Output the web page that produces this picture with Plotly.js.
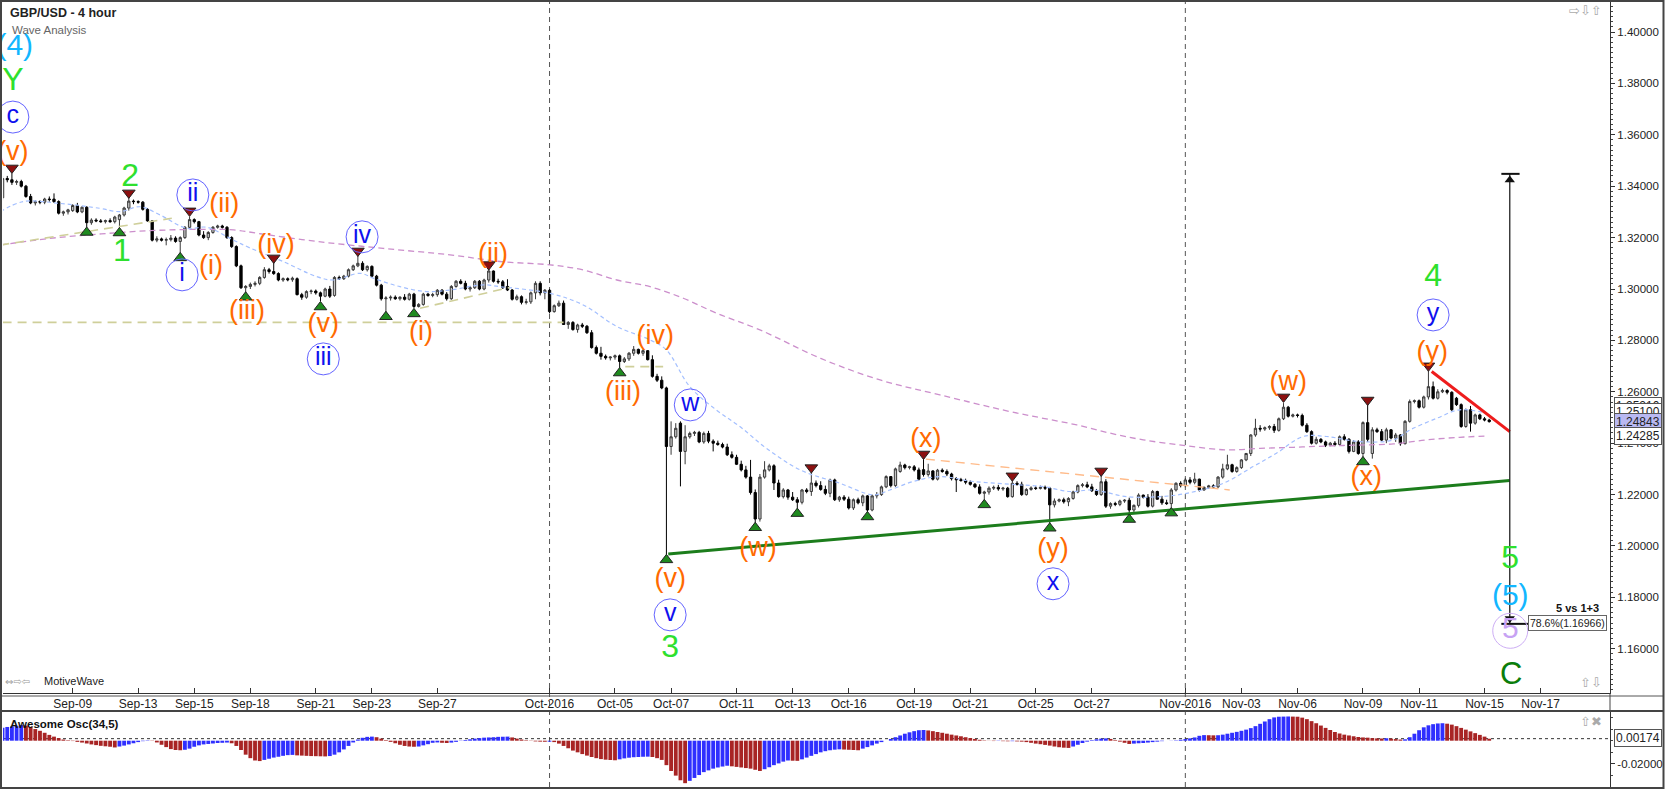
<!DOCTYPE html>
<html><head><meta charset="utf-8">
<script src="https://cdn.plot.ly/plotly-3.0.1.min.js"></script>
<style>html,body{margin:0;padding:0;background:#fff;}#chart{width:1668px;height:789px;}</style>
</head><body><div id="chart"></div>
<script>
// ---------------- DATA ----------------
const START = -15; // bar index of first candle (index 0 = Sep-09 00:00, 4h bars)
const open = [
1.3355,1.3430,1.3425,1.3415,1.3418,1.3400,1.3360,1.3335,1.3340,1.3338,
1.3350,1.3350,1.3340,1.3295,1.3300,1.3305,1.3325,1.3300,1.3318,1.3258,
1.3268,1.3265,1.3262,1.3266,1.3262,1.3270,1.3288,1.3315,1.3342,1.3340,
1.3338,1.3310,1.3265,1.3190,1.3195,1.3190,1.3192,1.3198,1.3185,1.3200,
1.3240,1.3270,1.3262,1.3210,1.3200,1.3220,1.3240,1.3245,1.3240,1.3200,
1.3165,1.3090,1.3005,1.3010,1.3018,1.3022,1.3045,1.3075,1.3068,1.3060,
1.3035,1.3040,1.3036,1.3040,1.2978,1.2968,1.2990,1.2992,1.2985,1.2972,
1.3000,1.2975,1.3045,1.3040,1.3050,1.3075,1.3090,1.3100,1.3075,1.3088,
1.3050,1.3015,1.2962,1.2965,1.2968,1.2962,1.2968,1.2960,1.2980,1.2932,
1.2940,1.2980,1.2975,1.2978,1.2995,1.2980,1.2962,1.3010,1.3030,1.3022,
1.3000,1.3005,1.3030,1.3000,1.3035,1.3070,1.3030,1.3028,1.3010,1.2996,
1.2960,1.2970,1.2948,1.2950,1.2985,1.3022,1.2985,1.2995,1.2912,1.2935,
1.2945,1.2862,1.2870,1.2842,1.2860,1.2855,1.2830,1.2772,1.2750,1.2738,
1.2732,1.2735,1.2740,1.2718,1.2728,1.2750,1.2765,1.2750,1.2760,1.2725,
1.2660,1.2645,1.2615,1.2387,1.2425,1.2478,1.2368,1.2425,1.2438,1.2442,
1.2405,1.2438,1.2408,1.2400,1.2395,1.2385,1.2355,1.2345,1.2318,1.2296,
1.2268,1.2208,1.2105,1.2268,1.2296,1.2312,1.2245,1.2192,1.2218,1.2190,
1.2180,1.2170,1.2218,1.2212,1.2245,1.2235,1.2220,1.2205,1.2257,1.2180,
1.2190,1.2182,1.2148,1.2180,1.2168,1.2195,1.2140,1.2195,1.2200,1.2230,
1.2270,1.2235,1.2290,1.2315,1.2305,1.2308,1.2296,1.2297,1.2278,1.2292,
1.2260,1.2295,1.2290,1.2280,1.2262,1.2258,1.2255,1.2248,1.2240,1.2230,
1.2205,1.2210,1.2225,1.2228,1.2222,1.2225,1.2192,1.2244,1.2240,1.2200,
1.2220,1.2226,1.2224,1.2228,1.2225,1.2160,1.2175,1.2180,1.2172,1.2185,
1.2210,1.2235,1.2238,1.2230,1.2215,1.2200,1.2250,1.2155,1.2165,1.2162,
1.2175,1.2178,1.2140,1.2158,1.2198,1.2190,1.2155,1.2212,1.2182,1.2168,
1.2165,1.2218,1.2244,1.2235,1.2257,1.2248,1.2260,1.2218,1.2228,1.2234,
1.2230,1.2268,1.2300,1.2316,1.2290,1.2305,1.2335,1.2360,1.2432,1.2458,
1.2455,1.2460,1.2465,1.2450,1.2495,1.2540,1.2505,1.2510,1.2508,1.2470,
1.2445,1.2400,1.2415,1.2405,1.2392,1.2400,1.2395,1.2425,1.2415,1.2368,
1.2405,1.2360,1.2480,1.2360,1.2452,1.2445,1.2412,1.2452,1.2420,1.2432,
1.2398,1.2485,1.2562,1.2565,1.2540,1.2580,1.2620,1.2575,1.2600,1.2605,
1.2598,1.2575,1.2550,1.2465,1.2530,1.2478,1.2510,1.2495,1.2490];
const high = [
1.3440,1.3440,1.3450,1.3425,1.3425,1.3405,1.3370,1.3345,1.3345,1.3355,
1.3360,1.3372,1.3345,1.3305,1.3312,1.3330,1.3335,1.3322,1.3322,1.3275,
1.3275,1.3272,1.3270,1.3275,1.3285,1.3292,1.3320,1.3360,1.3348,1.3345,
1.3342,1.3315,1.3268,1.3205,1.3200,1.3200,1.3210,1.3205,1.3205,1.3245,
1.3282,1.3275,1.3265,1.3225,1.3225,1.3245,1.3250,1.3250,1.3245,1.3205,
1.3170,1.3095,1.3015,1.3025,1.3030,1.3050,1.3085,1.3082,1.3108,1.3065,
1.3045,1.3045,1.3048,1.3045,1.2985,1.2995,1.2998,1.2998,1.2990,1.3005,
1.3012,1.3050,1.3052,1.3055,1.3080,1.3095,1.3130,1.3108,1.3092,1.3092,
1.3055,1.3020,1.2972,1.2975,1.2975,1.2972,1.2980,1.2985,1.2985,1.2945,
1.2985,1.2985,1.2985,1.3000,1.3000,1.2988,1.3015,1.3035,1.3038,1.3032,
1.3012,1.3035,1.3035,1.3040,1.3082,1.3072,1.3040,1.3035,1.3038,1.3000,
1.2978,1.2975,1.2962,1.2990,1.3030,1.3030,1.3000,1.3000,1.2940,1.2955,
1.2955,1.2875,1.2875,1.2865,1.2868,1.2860,1.2840,1.2780,1.2775,1.2745,
1.2738,1.2745,1.2745,1.2735,1.2755,1.2778,1.2768,1.2765,1.2762,1.2742,
1.2670,1.2660,1.2620,1.2485,1.2478,1.2485,1.2470,1.2445,1.2448,1.2448,
1.2445,1.2448,1.2415,1.2410,1.2402,1.2398,1.2368,1.2355,1.2332,1.2312,
1.2335,1.2220,1.2280,1.2330,1.2320,1.2318,1.2258,1.2225,1.2222,1.2210,
1.2190,1.2222,1.2225,1.2290,1.2255,1.2252,1.2235,1.2262,1.2262,1.2195,
1.2198,1.2192,1.2185,1.2188,1.2200,1.2198,1.2200,1.2210,1.2235,1.2275,
1.2272,1.2305,1.2328,1.2320,1.2312,1.2315,1.2305,1.2342,1.2320,1.2295,
1.2300,1.2302,1.2298,1.2285,1.2268,1.2265,1.2262,1.2255,1.2245,1.2240,
1.2215,1.2232,1.2235,1.2238,1.2230,1.2230,1.2260,1.2252,1.2250,1.2225,
1.2232,1.2232,1.2235,1.2235,1.2230,1.2185,1.2185,1.2188,1.2190,1.2215,
1.2240,1.2245,1.2250,1.2242,1.2222,1.2275,1.2260,1.2170,1.2172,1.2180,
1.2182,1.2188,1.2162,1.2205,1.2200,1.2202,1.2218,1.2215,1.2195,1.2180,
1.2225,1.2248,1.2252,1.2265,1.2268,1.2285,1.2262,1.2232,1.2238,1.2240,
1.2272,1.2320,1.2355,1.2320,1.2310,1.2338,1.2362,1.2435,1.2495,1.2470,
1.2465,1.2470,1.2475,1.2500,1.2556,1.2545,1.2515,1.2515,1.2515,1.2478,
1.2450,1.2425,1.2420,1.2410,1.2405,1.2408,1.2430,1.2435,1.2420,1.2412,
1.2412,1.2485,1.2556,1.2462,1.2460,1.2455,1.2460,1.2455,1.2440,1.2435,
1.2490,1.2570,1.2570,1.2570,1.2585,1.2682,1.2640,1.2610,1.2612,1.2610,
1.2602,1.2580,1.2555,1.2535,1.2545,1.2515,1.2515,1.2502,1.2495];
const low = [
1.3345,1.3415,1.3405,1.3405,1.3395,1.3355,1.3330,1.3325,1.3330,1.3330,
1.3340,1.3335,1.3290,1.3285,1.3290,1.3300,1.3295,1.3295,1.3240,1.3250,
1.3260,1.3258,1.3255,1.3258,1.3255,1.3238,1.3282,1.3305,1.3330,1.3332,
1.3305,1.3262,1.3185,1.3182,1.3185,1.3170,1.3185,1.3180,1.3135,1.3195,
1.3235,1.3255,1.3205,1.3195,1.3190,1.3215,1.3235,1.3235,1.3195,1.3160,
1.3085,1.3000,1.2985,1.3000,1.3010,1.3015,1.3040,1.3060,1.3055,1.3030,
1.3028,1.3030,1.3028,1.2975,1.2958,1.2962,1.2980,1.2978,1.2952,1.2968,
1.2965,1.2970,1.3035,1.3035,1.3045,1.3070,1.3085,1.3070,1.3068,1.3045,
1.3010,1.2955,1.2905,1.2955,1.2958,1.2955,1.2955,1.2955,1.2925,1.2928,
1.2935,1.2970,1.2968,1.2970,1.2975,1.2955,1.2958,1.3005,1.3018,1.2995,
1.2990,1.3000,1.2995,1.2995,1.3025,1.3025,1.3020,1.3000,1.2992,1.2955,
1.2955,1.2940,1.2940,1.2942,1.2960,1.2975,1.2960,1.2905,1.2908,1.2930,
1.2860,1.2845,1.2838,1.2830,1.2848,1.2825,1.2768,1.2745,1.2725,1.2725,
1.2722,1.2725,1.2692,1.2712,1.2720,1.2740,1.2745,1.2740,1.2722,1.2655,
1.2638,1.2610,1.1965,1.2355,1.2418,1.2232,1.2318,1.2418,1.2428,1.2400,
1.2398,1.2400,1.2368,1.2390,1.2380,1.2350,1.2340,1.2315,1.2290,1.2262,
1.2200,1.2085,1.2095,1.2262,1.2290,1.2218,1.2188,1.2185,1.2180,1.2175,
1.2145,1.2162,1.2205,1.2195,1.2228,1.2215,1.2198,1.2190,1.2175,1.2172,
1.2175,1.2142,1.2140,1.2162,1.2155,1.2130,1.2135,1.2185,1.2195,1.2225,
1.2228,1.2230,1.2285,1.2298,1.2298,1.2290,1.2255,1.2270,1.2270,1.2255,
1.2255,1.2285,1.2272,1.2255,1.2210,1.2250,1.2240,1.2235,1.2225,1.2200,
1.2178,1.2200,1.2218,1.2215,1.2215,1.2188,1.2188,1.2235,1.2195,1.2196,
1.2215,1.2218,1.2220,1.2218,1.2088,1.2150,1.2170,1.2165,1.2155,1.2180,
1.2205,1.2228,1.2225,1.2210,1.2195,1.2195,1.2148,1.2145,1.2155,1.2155,
1.2168,1.2122,1.2132,1.2150,1.2185,1.2150,1.2150,1.2180,1.2160,1.2160,
1.2142,1.2212,1.2228,1.2228,1.2240,1.2240,1.2212,1.2215,1.2222,1.2222,
1.2225,1.2262,1.2295,1.2285,1.2285,1.2300,1.2330,1.2350,1.2425,1.2445,
1.2448,1.2452,1.2440,1.2445,1.2490,1.2500,1.2500,1.2500,1.2465,1.2440,
1.2395,1.2395,1.2400,1.2385,1.2388,1.2388,1.2390,1.2410,1.2360,1.2365,
1.2355,1.2345,1.2405,1.2340,1.2440,1.2408,1.2400,1.2415,1.2405,1.2390,
1.2395,1.2480,1.2555,1.2535,1.2535,1.2570,1.2570,1.2570,1.2595,1.2590,
1.2525,1.2545,1.2460,1.2460,1.2445,1.2472,1.2490,1.2485,1.2480];
const close = [
1.3430,1.3425,1.3415,1.3418,1.3400,1.3360,1.3335,1.3340,1.3338,1.3350,
1.3348,1.3340,1.3295,1.3300,1.3308,1.3325,1.3300,1.3318,1.3258,1.3268,
1.3265,1.3262,1.3266,1.3262,1.3280,1.3288,1.3315,1.3342,1.3340,1.3338,
1.3310,1.3265,1.3190,1.3195,1.3190,1.3192,1.3198,1.3185,1.3200,1.3240,
1.3270,1.3262,1.3210,1.3200,1.3220,1.3240,1.3245,1.3240,1.3200,1.3165,
1.3090,1.3005,1.3010,1.3018,1.3022,1.3045,1.3075,1.3068,1.3060,1.3035,
1.3040,1.3036,1.3042,1.2978,1.2968,1.2990,1.2992,1.2985,1.2972,1.3000,
1.2972,1.3045,1.3040,1.3050,1.3075,1.3090,1.3100,1.3075,1.3088,1.3050,
1.3015,1.2962,1.2965,1.2968,1.2962,1.2968,1.2960,1.2980,1.2932,1.2940,
1.2980,1.2975,1.2978,1.2995,1.2980,1.2962,1.3010,1.3030,1.3022,1.3000,
1.3005,1.3030,1.3000,1.3035,1.3070,1.3030,1.3028,1.3005,1.2996,1.2960,
1.2970,1.2948,1.2950,1.2985,1.3022,1.2985,1.2995,1.2912,1.2935,1.2945,
1.2862,1.2870,1.2842,1.2860,1.2855,1.2830,1.2772,1.2750,1.2738,1.2732,
1.2735,1.2740,1.2718,1.2728,1.2750,1.2765,1.2750,1.2760,1.2725,1.2660,
1.2645,1.2615,1.2387,1.2425,1.2458,1.2368,1.2425,1.2438,1.2442,1.2405,
1.2438,1.2408,1.2400,1.2395,1.2385,1.2355,1.2345,1.2318,1.2296,1.2268,
1.2208,1.2105,1.2268,1.2296,1.2312,1.2245,1.2192,1.2218,1.2190,1.2180,
1.2170,1.2218,1.2212,1.2245,1.2235,1.2220,1.2205,1.2257,1.2180,1.2190,
1.2182,1.2148,1.2180,1.2168,1.2195,1.2140,1.2195,1.2200,1.2230,1.2270,
1.2235,1.2300,1.2315,1.2305,1.2308,1.2296,1.2260,1.2278,1.2292,1.2260,
1.2295,1.2290,1.2280,1.2262,1.2258,1.2255,1.2248,1.2240,1.2230,1.2205,
1.2210,1.2225,1.2228,1.2222,1.2225,1.2192,1.2244,1.2240,1.2200,1.2220,
1.2226,1.2224,1.2228,1.2225,1.2160,1.2175,1.2180,1.2172,1.2185,1.2210,
1.2235,1.2238,1.2230,1.2215,1.2200,1.2250,1.2155,1.2165,1.2162,1.2175,
1.2178,1.2140,1.2158,1.2198,1.2190,1.2155,1.2212,1.2182,1.2168,1.2165,
1.2218,1.2244,1.2235,1.2257,1.2248,1.2260,1.2218,1.2228,1.2234,1.2230,
1.2268,1.2300,1.2316,1.2290,1.2305,1.2335,1.2360,1.2432,1.2458,1.2455,
1.2460,1.2465,1.2450,1.2495,1.2540,1.2505,1.2510,1.2508,1.2470,1.2445,
1.2400,1.2415,1.2405,1.2392,1.2400,1.2395,1.2425,1.2415,1.2368,1.2405,
1.2360,1.2480,1.2415,1.2452,1.2445,1.2412,1.2452,1.2420,1.2432,1.2398,
1.2485,1.2562,1.2565,1.2540,1.2580,1.2620,1.2575,1.2600,1.2605,1.2598,
1.2530,1.2550,1.2465,1.2530,1.2478,1.2510,1.2495,1.2490,1.2484];
// Awesome Oscillator (34,5) values per bar
const aoValues = [
0.0112,0.0118,0.0123,0.0128,0.0134,0.0130,0.0118,0.0100,0.0085,0.0068,
0.0050,0.0035,0.0022,0.0010,0.0004,-0.0003,-0.0010,-0.0016,-0.0024,-0.0032,
-0.0038,-0.0044,-0.0048,-0.0052,-0.0058,-0.0050,-0.0042,-0.0032,-0.0022,-0.0012,
-0.0004,0.0003,-0.0002,-0.0015,-0.0035,-0.0055,-0.0072,-0.0080,-0.0082,-0.0078,
-0.0068,-0.0052,-0.0040,-0.0032,-0.0028,-0.0024,-0.0020,-0.0018,-0.0016,-0.0022,
-0.0045,-0.0080,-0.0120,-0.0150,-0.0170,-0.0175,-0.0165,-0.0155,-0.0145,-0.0138,
-0.0130,-0.0124,-0.0122,-0.0126,-0.0128,-0.0130,-0.0132,-0.0133,-0.0134,-0.0135,
-0.0132,-0.0120,-0.0100,-0.0075,-0.0045,-0.0015,0.0010,0.0025,0.0033,0.0035,
0.0030,0.0018,0.0005,-0.0010,-0.0022,-0.0035,-0.0045,-0.0050,-0.0052,-0.0050,
-0.0040,-0.0030,-0.0018,-0.0015,-0.0018,-0.0020,-0.0016,-0.0010,-0.0002,0.0006,
0.0012,0.0018,0.0022,0.0026,0.0028,0.0030,0.0033,0.0034,0.0035,0.0028,
0.0018,0.0010,0.0004,-0.0002,-0.0006,-0.0008,-0.0009,-0.0008,-0.0012,-0.0025,
-0.0045,-0.0065,-0.0085,-0.0100,-0.0115,-0.0128,-0.0140,-0.0150,-0.0158,-0.0163,
-0.0166,-0.0168,-0.0160,-0.0152,-0.0146,-0.0142,-0.0140,-0.0138,-0.0137,-0.0140,
-0.0150,-0.0165,-0.0210,-0.0260,-0.0300,-0.0340,-0.0365,-0.0345,-0.0320,-0.0295,
-0.0270,-0.0255,-0.0240,-0.0230,-0.0222,-0.0215,-0.0220,-0.0225,-0.0230,-0.0235,
-0.0240,-0.0250,-0.0260,-0.0245,-0.0228,-0.0210,-0.0195,-0.0180,-0.0170,-0.0172,
-0.0173,-0.0160,-0.0145,-0.0130,-0.0115,-0.0100,-0.0090,-0.0082,-0.0077,-0.0074,
-0.0076,-0.0078,-0.0080,-0.0082,-0.0068,-0.0055,-0.0040,-0.0025,-0.0012,0.0000,
0.0015,0.0030,0.0045,0.0060,0.0072,0.0082,0.0090,0.0092,0.0088,0.0082,
0.0075,0.0068,0.0060,0.0052,0.0045,0.0038,0.0030,0.0022,0.0015,0.0008,
0.0003,-0.0001,-0.0003,-0.0002,-0.0004,-0.0005,-0.0004,-0.0006,-0.0008,-0.0012,
-0.0018,-0.0025,-0.0030,-0.0036,-0.0042,-0.0050,-0.0056,-0.0060,-0.0062,-0.0050,
-0.0035,-0.0020,-0.0008,0.0005,0.0012,0.0018,0.0020,0.0015,0.0005,-0.0008,
-0.0018,-0.0028,-0.0025,-0.0022,-0.0020,-0.0016,-0.0012,-0.0008,-0.0004,0.0000,
0.0001,0.0003,0.0008,0.0014,0.0020,0.0028,0.0042,0.0048,0.0047,0.0046,
0.0047,0.0052,0.0060,0.0068,0.0076,0.0085,0.0095,0.0108,0.0125,0.0145,
0.0165,0.0185,0.0200,0.0206,0.0207,0.0208,0.0207,0.0206,0.0198,0.0185,
0.0168,0.0150,0.0130,0.0110,0.0092,0.0075,0.0062,0.0052,0.0045,0.0038,
0.0032,0.0028,0.0026,0.0022,0.0020,0.0019,0.0021,0.0018,0.0014,0.0010,
0.0012,0.0030,0.0060,0.0090,0.0115,0.0132,0.0142,0.0148,0.0150,0.0146,
0.0138,0.0125,0.0110,0.0095,0.0080,0.0065,0.0050,0.0035,0.0017];

// x-axis date ticks (bar index -> label)
const tickIdx = [0,14,26,38,52,64,78,102,116,128,142,154,166,180,192,206,218,238,250,262,276,288,302,314];
const tickLab = ['Sep-09','Sep-13','Sep-15','Sep-18','Sep-21','Sep-23','Sep-27','Oct-2016','Oct-05','Oct-07','Oct-11','Oct-13','Oct-16','Oct-19','Oct-21','Oct-25','Oct-27','Nov-2016','Nov-03','Nov-06','Nov-09','Nov-11','Nov-15','Nov-17'];
const monthIdx = [102, 238];

// moving averages
const fastMaX = [-15.5,-10.6,-2.7,5.8,10.1,14.4,18.7,24.4,28.7,34.4,37.9,45,52.2,55.8,61.5,64.3,70,75.7,80.7,87.8,91.4,102.1,109.2,116.4,123.5,127,132,137.7,142.7,148.4,155.6,164.1,171.3,174.8,179.8,185.5,192.7,202.6,207.6,213.3,218.3,225.5,232.6,238.3,246.1,252.5,257.5,263.2,268.2,275.4,282.5,286.1,291.8,296.7,302.4];
const fastMaY = [1.3301,1.3340,1.3333,1.3314,1.3301,1.3320,1.3288,1.3236,1.3240,1.3190,1.3160,1.3107,1.3048,1.3035,1.3061,1.3042,1.3009,1.2990,1.2996,1.3016,1.3009,1.2983,1.2938,1.2854,1.2802,1.2763,1.2620,1.2529,1.2465,1.2380,1.2296,1.2244,1.2199,1.2218,1.2251,1.2270,1.2251,1.2238,1.2231,1.2212,1.2218,1.2192,1.2192,1.2205,1.2244,1.2309,1.2361,1.2426,1.2426,1.2406,1.2413,1.2452,1.2497,1.2530,1.2517];
const slowMaX = [-15.5,-4.9,5.8,16.5,27.2,34.4,40.1,52.2,66.4,80.7,91.4,102.1,109.2,116.4,123.5,130.6,137.7,147,160,172.7,185.5,200.5,207.6,214.8,221.9,229,238.1,246.8,254,261.1,268.2,275.4,282.5,289.6,296.7,302.5];
const slowMaY = [1.3171,1.3197,1.3214,1.3227,1.3232,1.3230,1.3215,1.3185,1.3158,1.3133,1.3107,1.3094,1.3074,1.3035,1.3009,1.2964,1.2906,1.2841,1.2730,1.2646,1.2588,1.2523,1.2497,1.2471,1.2439,1.2413,1.2390,1.2374,1.2380,1.2384,1.2389,1.2393,1.2397,1.2413,1.2423,1.2428];

// drawn lines [x0,x1],[y0,y1]
const supportX = [127.4, 307.4], supportY = [1.1969, 1.2255];     // green trend line
const resistX = [290.7, 307.4], resistY = [1.2679, 1.2445];       // red trend line
const orangeX = [182.5, 247.5], orangeY = [1.2338, 1.2218];       // orange dashed
const khakiSegX = [[-15, 105], [118.2, 126.3], [-15.5, 21.2], [74.3, 93.5]];
const khakiSegY = [[1.2870, 1.2870], [1.2698, 1.2698], [1.3171, 1.3275], [1.2925, 1.3006]];
const measX = 307.4, measTop = 1.3448, measBot = 1.1697;

// swing markers
const hiIdx = [-13,12,25,43,61,89,158,182,201,220,259,277,290];
const hiY   = [1.3471,1.3374,1.3304,1.3121,1.3148,1.3095,1.2305,1.2358,1.2273,1.2292,1.2580,1.2568,1.2701];
const loIdx = [3,10,23,37,53,67,73,117,127,146,155,170,195,209,226,235,276];
const loY   = [1.3220,1.3218,1.3121,1.2968,1.2930,1.2892,1.2903,1.2673,1.1946,1.2071,1.2126,1.2113,1.2160,1.2069,1.2103,1.2128,1.2327];

// wave labels
const labText = ['(4)','Y','c','(v)','2','1','ii','(ii)','i','(i)','(iv)','iv','(iii)','(v)','iii','(i)','(ii)','(iii)','(iv)','w','(v)','v','3','(w)','(x)','(y)','x','(w)','(x)','(y)','y','4','5','(5)','5','C'];
const labX = [-12.4,-12.8,-12.8,-12.8,12.3,10.5,25.7,32.4,23.4,29.6,43.5,61.9,37.3,53.6,53.6,74.5,89.9,117.7,124.6,132.1,127.8,127.8,127.8,146.6,182.5,209.7,209.7,260,276.7,290.8,291,291,307.5,307.5,307.5,307.7];
const labY = [1.3938,1.3806,1.3669,1.3529,1.3432,1.3140,1.3366,1.3327,1.3055,1.3086,1.3168,1.3203,1.2911,1.2860,1.2728,1.2829,1.3133,1.2596,1.2814,1.2549,1.1868,1.1732,1.1600,1.1989,1.2413,1.1985,1.1853,1.2635,1.2265,1.2751,1.2899,1.3043,1.1946,1.1798,1.1670,1.1495];
const labKind = ['c','g','b','o','g','g','b','o','b','o','o','b','o','o','b','o','o','o','o','b','o','b','g','o','o','o','b','o','o','o','b','g','g','c','p','d'];

// ---------------- BUILD ----------------
const W = 1668, Hh = 789;
const PX = x => x / W, PY = y => 1 - y / Hh;
const FONT = 'Liberation Sans, Arial, Helvetica, sans-serif';
const idx = open.map((_, i) => START + i);

const traces = [];
traces.push({type:'scatter', mode:'lines', x:slowMaX, y:slowMaY, line:{color:'#cc8fcc', width:1.3, dash:'6px,4px', shape:'spline'}, hoverinfo:'skip'});
traces.push({type:'scatter', mode:'lines', x:fastMaX, y:fastMaY, line:{color:'#a3bfff', width:1.2, dash:'4px,3px', shape:'spline'}, hoverinfo:'skip'});
khakiSegX.forEach((sx, k) => traces.push({type:'scatter', mode:'lines', x:sx, y:khakiSegY[k], line:{color:'#cfcf9a', width:1.6, dash:'9px,6px'}, hoverinfo:'skip'}));
traces.push({type:'scatter', mode:'lines', x:orangeX, y:orangeY, line:{color:'#ffbb8a', width:1.4, dash:'9px,6px'}, hoverinfo:'skip'});

traces.push({type:'candlestick', x:idx, open:open, high:high, low:low, close:close,
  increasing:{line:{color:'#3a3a3a', width:1}, fillcolor:'#c6c6c6'},
  decreasing:{line:{color:'#000000', width:1}, fillcolor:'#000000'},
  whiskerwidth:0, hoverinfo:'skip'});

traces.push({type:'scatter', mode:'lines', x:supportX, y:supportY, line:{color:'#1c7d1c', width:3}, hoverinfo:'skip'});
traces.push({type:'scatter', mode:'lines', x:resistX, y:resistY, line:{color:'#ee1c1c', width:3}, hoverinfo:'skip'});

// measurement line
traces.push({type:'scatter', mode:'lines', x:[measX, measX], y:[measTop, measBot], line:{color:'#222', width:1.3}, hoverinfo:'skip'});
traces.push({type:'scatter', mode:'lines', x:[measX-1.8, measX+2.1], y:[measTop, measTop], line:{color:'#111', width:2}, hoverinfo:'skip'});
traces.push({type:'scatter', mode:'lines', x:[measX-1.8, measX+3.9], y:[measBot, measBot], line:{color:'#111', width:2}, hoverinfo:'skip'});
traces.push({type:'scatter', mode:'markers', x:[measX], y:[measTop-0.0024], marker:{symbol:'triangle-up', size:9, color:'#111'}, hoverinfo:'skip', cliponaxis:false});
traces.push({type:'scatter', mode:'markers', x:[measX], y:[measBot+0.0021], marker:{symbol:'triangle-down', size:9, color:'#111'}, hoverinfo:'skip', cliponaxis:false});

// swing markers
traces.push({type:'scatter', mode:'markers', x:hiIdx, y:hiY, marker:{symbol:'triangle-down', size:11, color:'#8c1010', line:{color:'#222', width:1}}, hoverinfo:'skip', cliponaxis:false});
traces.push({type:'scatter', mode:'markers', x:loIdx, y:loY, marker:{symbol:'triangle-up', size:11, color:'#1f8a1f', line:{color:'#222', width:1}}, hoverinfo:'skip', cliponaxis:false});

// circles around circled labels
const styles = {
  o:{color:'#ff6a00', size:27}, b:{color:'#1010ee', size:25}, g:{color:'#2ee02e', size:32},
  c:{color:'#12b6ff', size:30}, d:{color:'#0b7d0b', size:31}, p:{color:'#c7a2f3', size:30}
};
['b','p'].forEach(k => {
  const xs = [], ys = [];
  labKind.forEach((kk, i) => { if (kk === k) { xs.push(labX[i]); ys.push(labY[i]); } });
  traces.push({type:'scatter', mode:'markers', x:xs, y:ys,
    marker:{symbol:'circle-open', size: k === 'b' ? 32 : 35, color: k === 'b' ? '#6464ff' : '#cdaef5', line:{width:1}},
    hoverinfo:'skip', cliponaxis:false});
});
Object.keys(styles).forEach(k => {
  const xs = [], ys = [], ts = [];
  labKind.forEach((kk, i) => { if (kk === k) { xs.push(labX[i]); ys.push(labY[i]); ts.push(labText[i]); } });
  traces.push({type:'scatter', mode:'text', x:xs, y:ys, text:ts, textposition:'middle center',
    textfont:{family:FONT, size:styles[k].size, color:styles[k].color}, hoverinfo:'skip', cliponaxis:false});
});

// Awesome oscillator
const aoColors = aoValues.map((v, i) => (i === 0 || v > aoValues[i-1]) ? '#2f2fff' : '#a82424');
traces.push({type:'bar', x:idx, y:aoValues, xaxis:'x2', yaxis:'y2', marker:{color:aoColors, line:{width:0}}, hoverinfo:'skip'});

const xr = [-14.909, 328.84];
const shapes = [];
monthIdx.forEach(m => shapes.push({type:'line', xref:'x', yref:'paper', x0:m, x1:m, y0:PY(787), y1:PY(2), line:{color:'#555', width:1, dash:'5px,4px'}, layer:'below'}));
shapes.push({type:'line', xref:'paper', yref:'y2', x0:PX(3), x1:PX(1610), y0:0.00174, y1:0.00174, line:{color:'#333', width:1, dash:'3px,3px'}, layer:'below'});
shapes.push({type:'line', xref:'paper', yref:'paper', x0:0, x1:PX(1663), y0:PY(696), y1:PY(696), line:{color:'#555', width:1}});
shapes.push({type:'line', xref:'paper', yref:'paper', x0:0, x1:PX(1663), y0:PY(711), y1:PY(711), line:{color:'#444', width:2}});
shapes.push({type:'line', xref:'paper', yref:'paper', x0:PX(1610), x1:PX(1610), y0:PY(711), y1:PY(693), line:{color:'#444', width:1}});
shapes.push({type:'rect', xref:'paper', yref:'paper', x0:PX(1), x1:PX(1663.5), y0:PY(788), y1:PY(1), line:{color:'#444', width:2}});

const ann = [];
const A = (x, y, text, o) => ann.push(Object.assign({xref:'paper', yref:'paper', x:PX(x), y:PY(y), text:text, showarrow:false, xanchor:'left', yanchor:'middle', font:{family:FONT, size:12, color:'#222'}}, o || {}));
A(8, 13, '<b>GBP/USD - 4 hour</b>', {font:{family:FONT, size:12.5, color:'#222'}});
A(10, 30, 'Wave Analysis', {font:{family:FONT, size:11.5, color:'#666'}});
A(8, 724, '<b>Awesome Osc(34,5)</b>', {font:{family:FONT, size:11.5, color:'#111'}});
A(3, 681, '⇔⇨⇦', {font:{family:'DejaVu Sans', size:10, color:'#999'}});
A(42, 681, 'MotiveWave', {font:{family:FONT, size:11, color:'#222'}});
A(1604, 11, '⇨⇩⇧', {xanchor:'right', font:{family:'DejaVu Sans', size:13, color:'#aaa'}});
A(1604, 682, '⇧⇩', {xanchor:'right', font:{family:'DejaVu Sans', size:13, color:'#aaa'}});
A(1604, 721, '⇧✖', {xanchor:'right', font:{family:'DejaVu Sans', size:13, color:'#aaa'}});
A(1601, 608, '<b>5 vs 1+3</b>', {xanchor:'right', font:{family:FONT, size:11, color:'#111'}});
A(1528, 623, '78.6%(1.16966)', {bgcolor:'#fff', bordercolor:'#666', borderwidth:1, borderpad:1, font:{family:FONT, size:10.5, color:'#222'}});
const tag = (y, t, bg) => A(1614, y, t, {bgcolor:bg, bordercolor:'#555', borderwidth:1, borderpad:1, font:{family:FONT, size:12, color:'#222'}});
tag(406, '1.25210', '#ffffff');
tag(412, '1.25100', '#ffffff');
tag(421.6, '1.24843', '#b9b9f2');
tag(436, '1.24285', '#ffffff');
tag(738, '0.00174', '#ffffff');

const layout = {
  width:W, height:Hh, margin:{l:0, r:0, t:0, b:0},
  paper_bgcolor:'#ffffff', plot_bgcolor:'#ffffff', showlegend:false, hovermode:false, dragmode:false,
  font:{family:FONT, size:12, color:'#222'},
  bargap:0.18,
  xaxis:{domain:[PX(3), PX(1610)], range:xr, anchor:'y', tickmode:'array', tickvals:tickIdx, ticktext:tickLab,
    ticks:'inside', ticklen:5, tickcolor:'#333', showline:true, linecolor:'#333', linewidth:1, showgrid:false, zeroline:false,
    rangeslider:{visible:false}, tickfont:{family:FONT, size:12, color:'#222'}, fixedrange:true},
  yaxis:{domain:[PY(693), PY(2)], range:[1.142798, 1.411673], anchor:'x', side:'right', tick0:1.40, dtick:0.02, tickformat:'.5f',
    ticks:'outside', ticklen:4, tickcolor:'#333', showline:true, linecolor:'#333', showgrid:false, zeroline:false,
    tickfont:{family:FONT, size:11.5, color:'#222'},
    minor:{dtick:0.002, ticks:'outside', ticklen:2, tickcolor:'#444', showgrid:false}, fixedrange:true},
  xaxis2:{domain:[PX(3), PX(1610)], range:xr, anchor:'y2', showticklabels:false, ticks:'', showline:false, showgrid:false, zeroline:false, fixedrange:true},
  yaxis2:{domain:[PY(787), PY(712)], range:[-0.03977, 0.02465], anchor:'x2', side:'right', tickmode:'array', tickvals:[-0.02], ticktext:['-0.02000'],
    ticks:'outside', ticklen:4, tickcolor:'#333', showline:true, linecolor:'#333', showgrid:false, zeroline:false,
    tickfont:{family:FONT, size:11.5, color:'#222'},
    minor:{dtick:0.01, ticks:'outside', ticklen:2, tickcolor:'#444', showgrid:false}, fixedrange:true},
  shapes:shapes, annotations:ann
};
Plotly.newPlot('chart', traces, layout, {staticPlot:true, displayModeBar:false});
</script></body></html>
